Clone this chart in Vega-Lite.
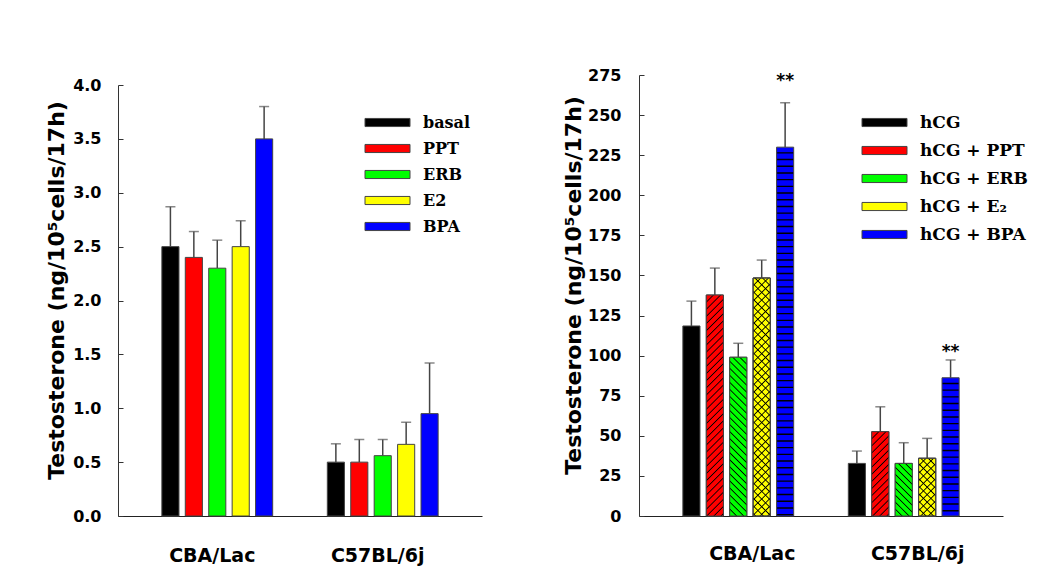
{
  "$schema": "https://vega.github.io/schema/vega-lite/v6.json",
  "padding": {"left": 45, "top": 67, "right": 5, "bottom": 5},
  "background": "white",
  "config": {
    "view": {"stroke": null},
    "axis": {"labelFont": "DejaVu Sans", "titleFont": "DejaVu Sans", "labelColor": "#000", "titleColor": "#000", "domainColor": "#333", "tickColor": "#333", "grid": false},
    "legend": {"labelFont": "DejaVu Serif", "labelFontWeight": "bold", "labelColor": "#000"}
  },
  "datasets": {
    "left": [
      {"group": "CBA/Lac", "treatment": "basal", "value": 2.5, "err": 2.87},
      {"group": "CBA/Lac", "treatment": "PPT", "value": 2.4, "err": 2.64},
      {"group": "CBA/Lac", "treatment": "ERB", "value": 2.3, "err": 2.56},
      {"group": "CBA/Lac", "treatment": "E2", "value": 2.5, "err": 2.74},
      {"group": "CBA/Lac", "treatment": "BPA", "value": 3.5, "err": 3.8},
      {"group": "C57BL/6j", "treatment": "basal", "value": 0.5, "err": 0.67},
      {"group": "C57BL/6j", "treatment": "PPT", "value": 0.5, "err": 0.71},
      {"group": "C57BL/6j", "treatment": "ERB", "value": 0.56, "err": 0.71},
      {"group": "C57BL/6j", "treatment": "E2", "value": 0.665, "err": 0.87},
      {"group": "C57BL/6j", "treatment": "BPA", "value": 0.95, "err": 1.42}
    ],
    "right": [
      {"group": "CBA/Lac", "treatment": "hCG", "value": 118.5, "err": 134, "sig": null, "sigY": null},
      {"group": "CBA/Lac", "treatment": "hCG + PPT", "value": 137.8, "err": 154.6, "sig": null, "sigY": null},
      {"group": "CBA/Lac", "treatment": "hCG + ERB", "value": 99, "err": 107.7, "sig": null, "sigY": null},
      {"group": "CBA/Lac", "treatment": "hCG + E₂", "value": 148.4, "err": 159.6, "sig": null, "sigY": null},
      {"group": "CBA/Lac", "treatment": "hCG + BPA", "value": 230, "err": 257.7, "sig": "**", "sigY": 271},
      {"group": "C57BL/6j", "treatment": "hCG", "value": 32.8, "err": 40.5, "sig": null, "sigY": null},
      {"group": "C57BL/6j", "treatment": "hCG + PPT", "value": 52.6, "err": 68.1, "sig": null, "sigY": null},
      {"group": "C57BL/6j", "treatment": "hCG + ERB", "value": 32.8, "err": 45.7, "sig": null, "sigY": null},
      {"group": "C57BL/6j", "treatment": "hCG + E₂", "value": 36, "err": 48.4, "sig": null, "sigY": null},
      {"group": "C57BL/6j", "treatment": "hCG + BPA", "value": 86.2, "err": 97.3, "sig": "**", "sigY": 102.5}
    ]
  },
  "resolve": {"scale": {"color": "independent", "x": "independent", "y": "independent", "xOffset": "independent"}, "legend": {"color": "independent"}},
  "spacing": 80,
  "hconcat": [
    {
      "width": 364,
      "height": 441,
      "data": {"name": "left"},
      "encoding": {
        "x": {"field": "group", "type": "nominal", "sort": ["CBA/Lac", "C57BL/6j"], "scale": {"paddingInner": 0.2, "paddingOuter": 0.2},
          "axis": {"title": null, "labelAngle": 0, "ticks": false, "labelFontSize": 19, "labelFontWeight": "bold", "labelPadding": 30, "labelOffset": -5, "domainColor": "#222"}},
        "xOffset": {"field": "treatment", "type": "nominal", "scale": {"domain": ["basal", "PPT", "ERB", "E2", "BPA"], "paddingInner": 0.27, "paddingOuter": 0.46}}
      },
      "layer": [
        {
          "mark": {"type": "rule", "color": "#444", "strokeWidth": 1.5},
          "encoding": {"y": {"field": "value", "type": "quantitative"}, "y2": {"field": "err"}}
        },
        {
          "mark": {"type": "tick", "color": "#555", "size": 10, "thickness": 1.5, "orient": "horizontal"},
          "encoding": {"y": {"field": "err", "type": "quantitative"}}
        },
        {
          "mark": {"type": "bar", "stroke": "#444", "strokeWidth": 1},
          "encoding": {
            "y": {"field": "value", "type": "quantitative", "scale": {"domain": [0, 4], "nice": false, "range": [441, 10]},
              "axis": {"title": "Testosterone (ng/10⁵cells/17h)", "titleFontSize": 22, "titleFontWeight": "bold", "titlePadding": 4, "titleY": 215,
                "values": [0, 0.25, 0.5, 0.75, 1, 1.25, 1.5, 1.75, 2, 2.25, 2.5, 2.75, 3, 3.25, 3.5, 3.75, 4],
                "labelExpr": "datum.value % 0.5 == 0 ? format(datum.value, '.1f') : ''",
                "labelFontSize": 16, "labelFontWeight": "bold", "tickSize": -5, "labelPadding": 22, "labelFlush": false, "labelOverlap": false}},
            "color": {"field": "treatment", "type": "nominal",
              "scale": {"domain": ["basal", "PPT", "ERB", "E2", "BPA"], "range": ["#000000", "#ff0000", "#00ff00", "#ffff00", "#0000ff"]},
              "legend": {"orient": "none", "legendX": 260, "legendY": 38, "title": null, "symbolType": "M-2.5,-0.45H2.5V0.45H-2.5Z", "symbolSize": 324,
                "symbolStrokeColor": "#444", "symbolStrokeWidth": 1, "labelFontSize": 16, "labelOffset": 26, "rowPadding": 8}}
          }
        }
      ]
    },
    {
      "width": 364,
      "height": 441,
      "data": {"name": "right"},
      "encoding": {
        "x": {"field": "group", "type": "nominal", "sort": ["CBA/Lac", "C57BL/6j"], "scale": {"paddingInner": 0.2, "paddingOuter": 0.2},
          "axis": {"title": null, "labelAngle": 0, "ticks": false, "labelFontSize": 19, "labelFontWeight": "bold", "labelPadding": 28, "labelOffset": 14, "domainColor": "#222"}},
        "xOffset": {"field": "treatment", "type": "nominal", "scale": {"domain": ["hCG", "hCG + PPT", "hCG + ERB", "hCG + E₂", "hCG + BPA"], "paddingInner": 0.27, "paddingOuter": 0.46}}
      },
      "layer": [
        {
          "mark": {"type": "rule", "color": "#444", "strokeWidth": 1.5},
          "encoding": {"y": {"field": "value", "type": "quantitative"}, "y2": {"field": "err"}}
        },
        {
          "mark": {"type": "tick", "color": "#555", "size": 10, "thickness": 1.5, "orient": "horizontal"},
          "encoding": {"y": {"field": "err", "type": "quantitative"}}
        },
        {
          "mark": {"type": "bar", "stroke": "#444", "strokeWidth": 1},
          "encoding": {
            "y": {"field": "value", "type": "quantitative", "scale": {"domain": [0, 275], "nice": false},
              "axis": {"title": "Testosterone (ng/10⁵cells/17h)", "titleFontSize": 22, "titleFontWeight": "bold", "titlePadding": 2, "titleY": 210,
                "values": [0, 25, 50, 75, 100, 125, 150, 175, 200, 225, 250, 275],
                "labelFontSize": 16, "labelFontWeight": "bold", "tickSize": -5, "labelPadding": 23, "labelFlush": false, "labelOverlap": false}},
            "color": {"field": "treatment", "type": "nominal",
              "scale": {"domain": ["hCG", "hCG + PPT", "hCG + ERB", "hCG + E₂", "hCG + BPA"], "range": ["#000000", "#ff0000", "#00ff00", "#ffff00", "#0000ff"]},
              "legend": {"orient": "none", "legendX": 236, "legendY": 38, "title": null, "symbolType": "M-2.5,-0.45H2.5V0.45H-2.5Z", "symbolSize": 324,
                "symbolStrokeColor": "#444", "symbolStrokeWidth": 1, "labelFontSize": 17, "labelOffset": 26, "rowPadding": 10}}
          }
        },
        {
          "transform": [{"filter": "datum.group == 'CBA/Lac' && datum.treatment == 'hCG + PPT'"}],
          "mark": {"type": "bar", "stroke": "#444", "strokeWidth": 1, "fill": {"gradient": "linear", "x1": 0, "y1": 0, "x2": 0.08287, "y2": 1.07097, "stops": [
            {"offset": 0.025, "color": "#f00"}, {"offset": 0.03, "color": "#000"}, {"offset": 0.035, "color": "#f00"},
            {"offset": 0.055, "color": "#f00"}, {"offset": 0.06, "color": "#000"}, {"offset": 0.065, "color": "#f00"},
            {"offset": 0.085, "color": "#f00"}, {"offset": 0.09, "color": "#000"}, {"offset": 0.095, "color": "#f00"},
            {"offset": 0.115, "color": "#f00"}, {"offset": 0.12, "color": "#000"}, {"offset": 0.125, "color": "#f00"},
            {"offset": 0.145, "color": "#f00"}, {"offset": 0.15, "color": "#000"}, {"offset": 0.155, "color": "#f00"},
            {"offset": 0.175, "color": "#f00"}, {"offset": 0.18, "color": "#000"}, {"offset": 0.185, "color": "#f00"},
            {"offset": 0.205, "color": "#f00"}, {"offset": 0.21, "color": "#000"}, {"offset": 0.215, "color": "#f00"},
            {"offset": 0.235, "color": "#f00"}, {"offset": 0.24, "color": "#000"}, {"offset": 0.245, "color": "#f00"},
            {"offset": 0.265, "color": "#f00"}, {"offset": 0.27, "color": "#000"}, {"offset": 0.275, "color": "#f00"},
            {"offset": 0.295, "color": "#f00"}, {"offset": 0.3, "color": "#000"}, {"offset": 0.305, "color": "#f00"},
            {"offset": 0.325, "color": "#f00"}, {"offset": 0.33, "color": "#000"}, {"offset": 0.335, "color": "#f00"},
            {"offset": 0.355, "color": "#f00"}, {"offset": 0.36, "color": "#000"}, {"offset": 0.365, "color": "#f00"},
            {"offset": 0.385, "color": "#f00"}, {"offset": 0.39, "color": "#000"}, {"offset": 0.395, "color": "#f00"},
            {"offset": 0.415, "color": "#f00"}, {"offset": 0.42, "color": "#000"}, {"offset": 0.425, "color": "#f00"},
            {"offset": 0.445, "color": "#f00"}, {"offset": 0.45, "color": "#000"}, {"offset": 0.455, "color": "#f00"},
            {"offset": 0.475, "color": "#f00"}, {"offset": 0.48, "color": "#000"}, {"offset": 0.485, "color": "#f00"},
            {"offset": 0.505, "color": "#f00"}, {"offset": 0.51, "color": "#000"}, {"offset": 0.515, "color": "#f00"},
            {"offset": 0.535, "color": "#f00"}, {"offset": 0.54, "color": "#000"}, {"offset": 0.545, "color": "#f00"},
            {"offset": 0.565, "color": "#f00"}, {"offset": 0.57, "color": "#000"}, {"offset": 0.575, "color": "#f00"},
            {"offset": 0.595, "color": "#f00"}, {"offset": 0.6, "color": "#000"}, {"offset": 0.605, "color": "#f00"},
            {"offset": 0.625, "color": "#f00"}, {"offset": 0.63, "color": "#000"}, {"offset": 0.635, "color": "#f00"},
            {"offset": 0.655, "color": "#f00"}, {"offset": 0.66, "color": "#000"}, {"offset": 0.665, "color": "#f00"},
            {"offset": 0.685, "color": "#f00"}, {"offset": 0.69, "color": "#000"}, {"offset": 0.695, "color": "#f00"},
            {"offset": 0.715, "color": "#f00"}, {"offset": 0.72, "color": "#000"}, {"offset": 0.725, "color": "#f00"},
            {"offset": 0.745, "color": "#f00"}, {"offset": 0.75, "color": "#000"}, {"offset": 0.755, "color": "#f00"},
            {"offset": 0.775, "color": "#f00"}, {"offset": 0.78, "color": "#000"}, {"offset": 0.785, "color": "#f00"},
            {"offset": 0.805, "color": "#f00"}, {"offset": 0.81, "color": "#000"}, {"offset": 0.815, "color": "#f00"},
            {"offset": 0.835, "color": "#f00"}, {"offset": 0.84, "color": "#000"}, {"offset": 0.845, "color": "#f00"},
            {"offset": 0.865, "color": "#f00"}, {"offset": 0.87, "color": "#000"}, {"offset": 0.875, "color": "#f00"},
            {"offset": 0.895, "color": "#f00"}, {"offset": 0.9, "color": "#000"}, {"offset": 0.905, "color": "#f00"},
            {"offset": 0.925, "color": "#f00"}, {"offset": 0.93, "color": "#000"}, {"offset": 0.935, "color": "#f00"},
            {"offset": 0.955, "color": "#f00"}, {"offset": 0.96, "color": "#000"}, {"offset": 0.965, "color": "#f00"},
            {"offset": 0.985, "color": "#f00"}, {"offset": 0.99, "color": "#000"}, {"offset": 0.995, "color": "#f00"}]}},
          "encoding": {"y": {"field": "value", "type": "quantitative"}}
        },
        {
          "transform": [{"filter": "datum.group == 'C57BL/6j' && datum.treatment == 'hCG + PPT'"}],
          "mark": {"type": "bar", "stroke": "#444", "strokeWidth": 1, "fill": {"gradient": "linear", "x1": 0, "y1": 0, "x2": 0.2342, "y2": 1.15525, "stops": [
            {"offset": 0.058, "color": "#f00"}, {"offset": 0.07, "color": "#000"}, {"offset": 0.082, "color": "#f00"},
            {"offset": 0.128, "color": "#f00"}, {"offset": 0.14, "color": "#000"}, {"offset": 0.152, "color": "#f00"},
            {"offset": 0.198, "color": "#f00"}, {"offset": 0.21, "color": "#000"}, {"offset": 0.222, "color": "#f00"},
            {"offset": 0.268, "color": "#f00"}, {"offset": 0.28, "color": "#000"}, {"offset": 0.292, "color": "#f00"},
            {"offset": 0.338, "color": "#f00"}, {"offset": 0.35, "color": "#000"}, {"offset": 0.362, "color": "#f00"},
            {"offset": 0.408, "color": "#f00"}, {"offset": 0.42, "color": "#000"}, {"offset": 0.432, "color": "#f00"},
            {"offset": 0.478, "color": "#f00"}, {"offset": 0.49, "color": "#000"}, {"offset": 0.502, "color": "#f00"},
            {"offset": 0.548, "color": "#f00"}, {"offset": 0.56, "color": "#000"}, {"offset": 0.572, "color": "#f00"},
            {"offset": 0.618, "color": "#f00"}, {"offset": 0.63, "color": "#000"}, {"offset": 0.642, "color": "#f00"},
            {"offset": 0.688, "color": "#f00"}, {"offset": 0.7, "color": "#000"}, {"offset": 0.712, "color": "#f00"},
            {"offset": 0.758, "color": "#f00"}, {"offset": 0.77, "color": "#000"}, {"offset": 0.782, "color": "#f00"},
            {"offset": 0.828, "color": "#f00"}, {"offset": 0.84, "color": "#000"}, {"offset": 0.852, "color": "#f00"},
            {"offset": 0.898, "color": "#f00"}, {"offset": 0.91, "color": "#000"}, {"offset": 0.922, "color": "#f00"},
            {"offset": 0.968, "color": "#f00"}, {"offset": 0.98, "color": "#000"}, {"offset": 0.992, "color": "#f00"}]}},
          "encoding": {"y": {"field": "value", "type": "quantitative"}}
        },
        {
          "transform": [{"filter": "datum.group == 'CBA/Lac' && datum.treatment == 'hCG + ERB'"}],
          "mark": {"type": "bar", "stroke": "#444", "strokeWidth": 1, "fill": {"gradient": "linear", "x1": 1, "y1": 0, "x2": 0.88206, "y2": 1.09501, "stops": [
            {"offset": 0.033, "color": "#0f0"}, {"offset": 0.04, "color": "#000"}, {"offset": 0.047, "color": "#0f0"},
            {"offset": 0.073, "color": "#0f0"}, {"offset": 0.08, "color": "#000"}, {"offset": 0.087, "color": "#0f0"},
            {"offset": 0.113, "color": "#0f0"}, {"offset": 0.12, "color": "#000"}, {"offset": 0.127, "color": "#0f0"},
            {"offset": 0.153, "color": "#0f0"}, {"offset": 0.16, "color": "#000"}, {"offset": 0.167, "color": "#0f0"},
            {"offset": 0.193, "color": "#0f0"}, {"offset": 0.2, "color": "#000"}, {"offset": 0.207, "color": "#0f0"},
            {"offset": 0.233, "color": "#0f0"}, {"offset": 0.24, "color": "#000"}, {"offset": 0.247, "color": "#0f0"},
            {"offset": 0.273, "color": "#0f0"}, {"offset": 0.28, "color": "#000"}, {"offset": 0.287, "color": "#0f0"},
            {"offset": 0.313, "color": "#0f0"}, {"offset": 0.32, "color": "#000"}, {"offset": 0.327, "color": "#0f0"},
            {"offset": 0.353, "color": "#0f0"}, {"offset": 0.36, "color": "#000"}, {"offset": 0.367, "color": "#0f0"},
            {"offset": 0.393, "color": "#0f0"}, {"offset": 0.4, "color": "#000"}, {"offset": 0.407, "color": "#0f0"},
            {"offset": 0.433, "color": "#0f0"}, {"offset": 0.44, "color": "#000"}, {"offset": 0.447, "color": "#0f0"},
            {"offset": 0.473, "color": "#0f0"}, {"offset": 0.48, "color": "#000"}, {"offset": 0.487, "color": "#0f0"},
            {"offset": 0.513, "color": "#0f0"}, {"offset": 0.52, "color": "#000"}, {"offset": 0.527, "color": "#0f0"},
            {"offset": 0.553, "color": "#0f0"}, {"offset": 0.56, "color": "#000"}, {"offset": 0.567, "color": "#0f0"},
            {"offset": 0.593, "color": "#0f0"}, {"offset": 0.6, "color": "#000"}, {"offset": 0.607, "color": "#0f0"},
            {"offset": 0.633, "color": "#0f0"}, {"offset": 0.64, "color": "#000"}, {"offset": 0.647, "color": "#0f0"},
            {"offset": 0.673, "color": "#0f0"}, {"offset": 0.68, "color": "#000"}, {"offset": 0.687, "color": "#0f0"},
            {"offset": 0.713, "color": "#0f0"}, {"offset": 0.72, "color": "#000"}, {"offset": 0.727, "color": "#0f0"},
            {"offset": 0.753, "color": "#0f0"}, {"offset": 0.76, "color": "#000"}, {"offset": 0.767, "color": "#0f0"},
            {"offset": 0.793, "color": "#0f0"}, {"offset": 0.8, "color": "#000"}, {"offset": 0.807, "color": "#0f0"},
            {"offset": 0.833, "color": "#0f0"}, {"offset": 0.84, "color": "#000"}, {"offset": 0.847, "color": "#0f0"},
            {"offset": 0.873, "color": "#0f0"}, {"offset": 0.88, "color": "#000"}, {"offset": 0.887, "color": "#0f0"},
            {"offset": 0.913, "color": "#0f0"}, {"offset": 0.92, "color": "#000"}, {"offset": 0.927, "color": "#0f0"},
            {"offset": 0.953, "color": "#0f0"}, {"offset": 0.96, "color": "#000"}, {"offset": 0.967, "color": "#0f0"}]}},
          "encoding": {"y": {"field": "value", "type": "quantitative"}}
        },
        {
          "transform": [{"filter": "datum.group == 'C57BL/6j' && datum.treatment == 'hCG + ERB'"}],
          "mark": {"type": "bar", "stroke": "#444", "strokeWidth": 1, "fill": {"gradient": "linear", "x1": 1, "y1": 0, "x2": 0.61039, "y2": 1.19844, "stops": [
            {"offset": 0.083, "color": "#0f0"}, {"offset": 0.1, "color": "#000"}, {"offset": 0.117, "color": "#0f0"},
            {"offset": 0.183, "color": "#0f0"}, {"offset": 0.2, "color": "#000"}, {"offset": 0.217, "color": "#0f0"},
            {"offset": 0.283, "color": "#0f0"}, {"offset": 0.3, "color": "#000"}, {"offset": 0.317, "color": "#0f0"},
            {"offset": 0.383, "color": "#0f0"}, {"offset": 0.4, "color": "#000"}, {"offset": 0.417, "color": "#0f0"},
            {"offset": 0.483, "color": "#0f0"}, {"offset": 0.5, "color": "#000"}, {"offset": 0.517, "color": "#0f0"},
            {"offset": 0.583, "color": "#0f0"}, {"offset": 0.6, "color": "#000"}, {"offset": 0.617, "color": "#0f0"},
            {"offset": 0.683, "color": "#0f0"}, {"offset": 0.7, "color": "#000"}, {"offset": 0.717, "color": "#0f0"},
            {"offset": 0.783, "color": "#0f0"}, {"offset": 0.8, "color": "#000"}, {"offset": 0.817, "color": "#0f0"},
            {"offset": 0.883, "color": "#0f0"}, {"offset": 0.9, "color": "#000"}, {"offset": 0.917, "color": "#0f0"}]}},
          "encoding": {"y": {"field": "value", "type": "quantitative"}}
        },
        {
          "transform": [{"filter": "datum.group == 'CBA/Lac' && datum.treatment == 'hCG + E₂'"}],
          "mark": {"type": "bar", "stroke": "#444", "strokeWidth": 1, "fill": {"gradient": "linear", "x1": 0, "y1": 0, "x2": 0.07663, "y2": 1.06635, "stops": [
            {"offset": 0.025, "color": "#ff0"}, {"offset": 0.03, "color": "#000"}, {"offset": 0.035, "color": "#ff0"},
            {"offset": 0.055, "color": "#ff0"}, {"offset": 0.06, "color": "#000"}, {"offset": 0.065, "color": "#ff0"},
            {"offset": 0.085, "color": "#ff0"}, {"offset": 0.09, "color": "#000"}, {"offset": 0.095, "color": "#ff0"},
            {"offset": 0.115, "color": "#ff0"}, {"offset": 0.12, "color": "#000"}, {"offset": 0.125, "color": "#ff0"},
            {"offset": 0.145, "color": "#ff0"}, {"offset": 0.15, "color": "#000"}, {"offset": 0.155, "color": "#ff0"},
            {"offset": 0.175, "color": "#ff0"}, {"offset": 0.18, "color": "#000"}, {"offset": 0.185, "color": "#ff0"},
            {"offset": 0.205, "color": "#ff0"}, {"offset": 0.21, "color": "#000"}, {"offset": 0.215, "color": "#ff0"},
            {"offset": 0.235, "color": "#ff0"}, {"offset": 0.24, "color": "#000"}, {"offset": 0.245, "color": "#ff0"},
            {"offset": 0.265, "color": "#ff0"}, {"offset": 0.27, "color": "#000"}, {"offset": 0.275, "color": "#ff0"},
            {"offset": 0.295, "color": "#ff0"}, {"offset": 0.3, "color": "#000"}, {"offset": 0.305, "color": "#ff0"},
            {"offset": 0.325, "color": "#ff0"}, {"offset": 0.33, "color": "#000"}, {"offset": 0.335, "color": "#ff0"},
            {"offset": 0.355, "color": "#ff0"}, {"offset": 0.36, "color": "#000"}, {"offset": 0.365, "color": "#ff0"},
            {"offset": 0.385, "color": "#ff0"}, {"offset": 0.39, "color": "#000"}, {"offset": 0.395, "color": "#ff0"},
            {"offset": 0.415, "color": "#ff0"}, {"offset": 0.42, "color": "#000"}, {"offset": 0.425, "color": "#ff0"},
            {"offset": 0.445, "color": "#ff0"}, {"offset": 0.45, "color": "#000"}, {"offset": 0.455, "color": "#ff0"},
            {"offset": 0.475, "color": "#ff0"}, {"offset": 0.48, "color": "#000"}, {"offset": 0.485, "color": "#ff0"},
            {"offset": 0.505, "color": "#ff0"}, {"offset": 0.51, "color": "#000"}, {"offset": 0.515, "color": "#ff0"},
            {"offset": 0.535, "color": "#ff0"}, {"offset": 0.54, "color": "#000"}, {"offset": 0.545, "color": "#ff0"},
            {"offset": 0.565, "color": "#ff0"}, {"offset": 0.57, "color": "#000"}, {"offset": 0.575, "color": "#ff0"},
            {"offset": 0.595, "color": "#ff0"}, {"offset": 0.6, "color": "#000"}, {"offset": 0.605, "color": "#ff0"},
            {"offset": 0.625, "color": "#ff0"}, {"offset": 0.63, "color": "#000"}, {"offset": 0.635, "color": "#ff0"},
            {"offset": 0.655, "color": "#ff0"}, {"offset": 0.66, "color": "#000"}, {"offset": 0.665, "color": "#ff0"},
            {"offset": 0.685, "color": "#ff0"}, {"offset": 0.69, "color": "#000"}, {"offset": 0.695, "color": "#ff0"},
            {"offset": 0.715, "color": "#ff0"}, {"offset": 0.72, "color": "#000"}, {"offset": 0.725, "color": "#ff0"},
            {"offset": 0.745, "color": "#ff0"}, {"offset": 0.75, "color": "#000"}, {"offset": 0.755, "color": "#ff0"},
            {"offset": 0.775, "color": "#ff0"}, {"offset": 0.78, "color": "#000"}, {"offset": 0.785, "color": "#ff0"},
            {"offset": 0.805, "color": "#ff0"}, {"offset": 0.81, "color": "#000"}, {"offset": 0.815, "color": "#ff0"},
            {"offset": 0.835, "color": "#ff0"}, {"offset": 0.84, "color": "#000"}, {"offset": 0.845, "color": "#ff0"},
            {"offset": 0.865, "color": "#ff0"}, {"offset": 0.87, "color": "#000"}, {"offset": 0.875, "color": "#ff0"},
            {"offset": 0.895, "color": "#ff0"}, {"offset": 0.9, "color": "#000"}, {"offset": 0.905, "color": "#ff0"},
            {"offset": 0.925, "color": "#ff0"}, {"offset": 0.93, "color": "#000"}, {"offset": 0.935, "color": "#ff0"},
            {"offset": 0.955, "color": "#ff0"}, {"offset": 0.96, "color": "#000"}, {"offset": 0.965, "color": "#ff0"},
            {"offset": 0.985, "color": "#ff0"}, {"offset": 0.99, "color": "#000"}, {"offset": 0.995, "color": "#ff0"}]}},
          "encoding": {"y": {"field": "value", "type": "quantitative"}}
        },
        {
          "transform": [{"filter": "datum.group == 'CBA/Lac' && datum.treatment == 'hCG + E₂'"}],
          "mark": {"type": "bar", "stroke": "#444", "strokeWidth": 1, "fill": {"gradient": "linear", "x1": 1, "y1": 0, "x2": 0.92337, "y2": 1.06635, "stops": [
            {"offset": 0.025, "color": "rgba(0,0,0,0)"}, {"offset": 0.03, "color": "#000"}, {"offset": 0.035, "color": "rgba(0,0,0,0)"},
            {"offset": 0.055, "color": "rgba(0,0,0,0)"}, {"offset": 0.06, "color": "#000"}, {"offset": 0.065, "color": "rgba(0,0,0,0)"},
            {"offset": 0.085, "color": "rgba(0,0,0,0)"}, {"offset": 0.09, "color": "#000"}, {"offset": 0.095, "color": "rgba(0,0,0,0)"},
            {"offset": 0.115, "color": "rgba(0,0,0,0)"}, {"offset": 0.12, "color": "#000"}, {"offset": 0.125, "color": "rgba(0,0,0,0)"},
            {"offset": 0.145, "color": "rgba(0,0,0,0)"}, {"offset": 0.15, "color": "#000"}, {"offset": 0.155, "color": "rgba(0,0,0,0)"},
            {"offset": 0.175, "color": "rgba(0,0,0,0)"}, {"offset": 0.18, "color": "#000"}, {"offset": 0.185, "color": "rgba(0,0,0,0)"},
            {"offset": 0.205, "color": "rgba(0,0,0,0)"}, {"offset": 0.21, "color": "#000"}, {"offset": 0.215, "color": "rgba(0,0,0,0)"},
            {"offset": 0.235, "color": "rgba(0,0,0,0)"}, {"offset": 0.24, "color": "#000"}, {"offset": 0.245, "color": "rgba(0,0,0,0)"},
            {"offset": 0.265, "color": "rgba(0,0,0,0)"}, {"offset": 0.27, "color": "#000"}, {"offset": 0.275, "color": "rgba(0,0,0,0)"},
            {"offset": 0.295, "color": "rgba(0,0,0,0)"}, {"offset": 0.3, "color": "#000"}, {"offset": 0.305, "color": "rgba(0,0,0,0)"},
            {"offset": 0.325, "color": "rgba(0,0,0,0)"}, {"offset": 0.33, "color": "#000"}, {"offset": 0.335, "color": "rgba(0,0,0,0)"},
            {"offset": 0.355, "color": "rgba(0,0,0,0)"}, {"offset": 0.36, "color": "#000"}, {"offset": 0.365, "color": "rgba(0,0,0,0)"},
            {"offset": 0.385, "color": "rgba(0,0,0,0)"}, {"offset": 0.39, "color": "#000"}, {"offset": 0.395, "color": "rgba(0,0,0,0)"},
            {"offset": 0.415, "color": "rgba(0,0,0,0)"}, {"offset": 0.42, "color": "#000"}, {"offset": 0.425, "color": "rgba(0,0,0,0)"},
            {"offset": 0.445, "color": "rgba(0,0,0,0)"}, {"offset": 0.45, "color": "#000"}, {"offset": 0.455, "color": "rgba(0,0,0,0)"},
            {"offset": 0.475, "color": "rgba(0,0,0,0)"}, {"offset": 0.48, "color": "#000"}, {"offset": 0.485, "color": "rgba(0,0,0,0)"},
            {"offset": 0.505, "color": "rgba(0,0,0,0)"}, {"offset": 0.51, "color": "#000"}, {"offset": 0.515, "color": "rgba(0,0,0,0)"},
            {"offset": 0.535, "color": "rgba(0,0,0,0)"}, {"offset": 0.54, "color": "#000"}, {"offset": 0.545, "color": "rgba(0,0,0,0)"},
            {"offset": 0.565, "color": "rgba(0,0,0,0)"}, {"offset": 0.57, "color": "#000"}, {"offset": 0.575, "color": "rgba(0,0,0,0)"},
            {"offset": 0.595, "color": "rgba(0,0,0,0)"}, {"offset": 0.6, "color": "#000"}, {"offset": 0.605, "color": "rgba(0,0,0,0)"},
            {"offset": 0.625, "color": "rgba(0,0,0,0)"}, {"offset": 0.63, "color": "#000"}, {"offset": 0.635, "color": "rgba(0,0,0,0)"},
            {"offset": 0.655, "color": "rgba(0,0,0,0)"}, {"offset": 0.66, "color": "#000"}, {"offset": 0.665, "color": "rgba(0,0,0,0)"},
            {"offset": 0.685, "color": "rgba(0,0,0,0)"}, {"offset": 0.69, "color": "#000"}, {"offset": 0.695, "color": "rgba(0,0,0,0)"},
            {"offset": 0.715, "color": "rgba(0,0,0,0)"}, {"offset": 0.72, "color": "#000"}, {"offset": 0.725, "color": "rgba(0,0,0,0)"},
            {"offset": 0.745, "color": "rgba(0,0,0,0)"}, {"offset": 0.75, "color": "#000"}, {"offset": 0.755, "color": "rgba(0,0,0,0)"},
            {"offset": 0.775, "color": "rgba(0,0,0,0)"}, {"offset": 0.78, "color": "#000"}, {"offset": 0.785, "color": "rgba(0,0,0,0)"},
            {"offset": 0.805, "color": "rgba(0,0,0,0)"}, {"offset": 0.81, "color": "#000"}, {"offset": 0.815, "color": "rgba(0,0,0,0)"},
            {"offset": 0.835, "color": "rgba(0,0,0,0)"}, {"offset": 0.84, "color": "#000"}, {"offset": 0.845, "color": "rgba(0,0,0,0)"},
            {"offset": 0.865, "color": "rgba(0,0,0,0)"}, {"offset": 0.87, "color": "#000"}, {"offset": 0.875, "color": "rgba(0,0,0,0)"},
            {"offset": 0.895, "color": "rgba(0,0,0,0)"}, {"offset": 0.9, "color": "#000"}, {"offset": 0.905, "color": "rgba(0,0,0,0)"},
            {"offset": 0.925, "color": "rgba(0,0,0,0)"}, {"offset": 0.93, "color": "#000"}, {"offset": 0.935, "color": "rgba(0,0,0,0)"},
            {"offset": 0.955, "color": "rgba(0,0,0,0)"}, {"offset": 0.96, "color": "#000"}, {"offset": 0.965, "color": "rgba(0,0,0,0)"},
            {"offset": 0.985, "color": "rgba(0,0,0,0)"}, {"offset": 0.99, "color": "#000"}, {"offset": 0.995, "color": "rgba(0,0,0,0)"}]}},
          "encoding": {"y": {"field": "value", "type": "quantitative"}}
        },
        {
          "transform": [{"filter": "datum.group == 'C57BL/6j' && datum.treatment == 'hCG + E₂'"}],
          "mark": {"type": "bar", "stroke": "#444", "strokeWidth": 1, "fill": {"gradient": "linear", "x1": 0, "y1": 0, "x2": 0.35299, "y2": 1.19165, "stops": [
            {"offset": 0.083, "color": "#ff0"}, {"offset": 0.1, "color": "#000"}, {"offset": 0.117, "color": "#ff0"},
            {"offset": 0.183, "color": "#ff0"}, {"offset": 0.2, "color": "#000"}, {"offset": 0.217, "color": "#ff0"},
            {"offset": 0.283, "color": "#ff0"}, {"offset": 0.3, "color": "#000"}, {"offset": 0.317, "color": "#ff0"},
            {"offset": 0.383, "color": "#ff0"}, {"offset": 0.4, "color": "#000"}, {"offset": 0.417, "color": "#ff0"},
            {"offset": 0.483, "color": "#ff0"}, {"offset": 0.5, "color": "#000"}, {"offset": 0.517, "color": "#ff0"},
            {"offset": 0.583, "color": "#ff0"}, {"offset": 0.6, "color": "#000"}, {"offset": 0.617, "color": "#ff0"},
            {"offset": 0.683, "color": "#ff0"}, {"offset": 0.7, "color": "#000"}, {"offset": 0.717, "color": "#ff0"},
            {"offset": 0.783, "color": "#ff0"}, {"offset": 0.8, "color": "#000"}, {"offset": 0.817, "color": "#ff0"},
            {"offset": 0.883, "color": "#ff0"}, {"offset": 0.9, "color": "#000"}, {"offset": 0.917, "color": "#ff0"}]}},
          "encoding": {"y": {"field": "value", "type": "quantitative"}}
        },
        {
          "transform": [{"filter": "datum.group == 'C57BL/6j' && datum.treatment == 'hCG + E₂'"}],
          "mark": {"type": "bar", "stroke": "#444", "strokeWidth": 1, "fill": {"gradient": "linear", "x1": 1, "y1": 0, "x2": 0.64701, "y2": 1.19165, "stops": [
            {"offset": 0.083, "color": "rgba(0,0,0,0)"}, {"offset": 0.1, "color": "#000"}, {"offset": 0.117, "color": "rgba(0,0,0,0)"},
            {"offset": 0.183, "color": "rgba(0,0,0,0)"}, {"offset": 0.2, "color": "#000"}, {"offset": 0.217, "color": "rgba(0,0,0,0)"},
            {"offset": 0.283, "color": "rgba(0,0,0,0)"}, {"offset": 0.3, "color": "#000"}, {"offset": 0.317, "color": "rgba(0,0,0,0)"},
            {"offset": 0.383, "color": "rgba(0,0,0,0)"}, {"offset": 0.4, "color": "#000"}, {"offset": 0.417, "color": "rgba(0,0,0,0)"},
            {"offset": 0.483, "color": "rgba(0,0,0,0)"}, {"offset": 0.5, "color": "#000"}, {"offset": 0.517, "color": "rgba(0,0,0,0)"},
            {"offset": 0.583, "color": "rgba(0,0,0,0)"}, {"offset": 0.6, "color": "#000"}, {"offset": 0.617, "color": "rgba(0,0,0,0)"},
            {"offset": 0.683, "color": "rgba(0,0,0,0)"}, {"offset": 0.7, "color": "#000"}, {"offset": 0.717, "color": "rgba(0,0,0,0)"},
            {"offset": 0.783, "color": "rgba(0,0,0,0)"}, {"offset": 0.8, "color": "#000"}, {"offset": 0.817, "color": "rgba(0,0,0,0)"},
            {"offset": 0.883, "color": "rgba(0,0,0,0)"}, {"offset": 0.9, "color": "#000"}, {"offset": 0.917, "color": "rgba(0,0,0,0)"}]}},
          "encoding": {"y": {"field": "value", "type": "quantitative"}}
        },
        {
          "transform": [{"filter": "datum.treatment == 'hCG + BPA'"}],
          "mark": {"type": "rule", "color": "#000", "strokeWidth": 16, "strokeDash": [1.4, 5.3], "strokeCap": "butt", "strokeDashOffset": -5},
          "encoding": {"y": {"field": "value", "type": "quantitative"}, "y2": {"datum": 0}}
        },
        {
          "transform": [{"filter": "datum.sig != null"}],
          "mark": {"type": "text", "font": "DejaVu Sans", "fontWeight": "bold", "fontSize": 17, "color": "#000", "baseline": "middle"},
          "encoding": {"y": {"field": "sigY", "type": "quantitative"}, "text": {"field": "sig"}}
        }
      ]
    }
  ]
}
